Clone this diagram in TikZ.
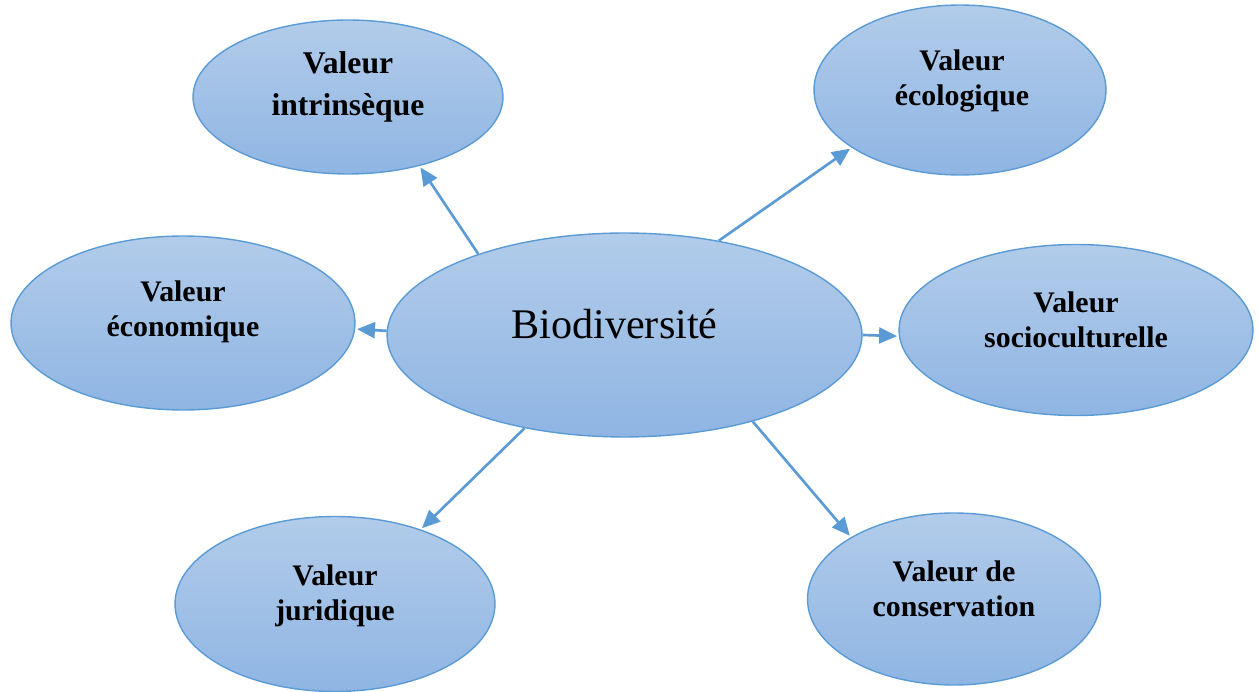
\documentclass[tikz,border=0pt]{standalone}
\usepackage{fontspec}
\setmainfont{Liberation Serif}
\usepackage{tikz}
\usetikzlibrary{arrows.meta,positioning,calc,shapes.geometric}
\definecolor{edgeblue}{HTML}{5B9BD5}
\definecolor{filltop}{HTML}{B2CCEA}
\definecolor{fillbot}{HTML}{8FB5E3}

\begin{document}
\begin{tikzpicture}[
  x=0.02cm, y=-0.02cm,
  arr/.style={-{Triangle[length=3.6mm, width=3.2mm]}, edgeblue, line width=1.5pt, shorten >=1pt},
  bubble/.style={ellipse, draw=edgeblue, line width=0.8pt, inner sep=0pt,
    top color=filltop, bottom color=fillbot},
  lab/.style={font=\fontsize{17}{20}\selectfont\bfseries, align=center},
  biolab/.style={font=\fontsize{24}{28}\selectfont}
]
\useasboundingbox (0,0) rectangle (1259,692);

% ===== BUBBLES =====
\node[bubble, minimum width=9.5cm, minimum height=4.08cm] (bio) at (624.5,335) {};
\node[bubble, minimum width=6.2cm, minimum height=3.08cm] (intr) at (348,97) {};
\node[bubble, minimum width=5.84cm, minimum height=3.4cm] (ecol) at (960,90) {};
\node[bubble, minimum width=6.88cm, minimum height=3.48cm] (econ) at (183,323) {};
\node[bubble, minimum width=7.08cm, minimum height=3.42cm] (socio) at (1076,330) {};
\node[bubble, minimum width=6.4cm, minimum height=3.5cm] (jur) at (335,604) {};
\node[bubble, minimum width=5.86cm, minimum height=3.44cm] (cons) at (954,599) {};

% ===== LABELS =====
\node[biolab] (bio_txt) at ([xshift=-0.2cm, yshift=0.22cm]bio.center) {Biodiversité};
\node[lab, font=\fontsize{18}{24}\selectfont\bfseries] (intr_txt) at ([yshift=0.2cm]intr.center) {Valeur\\intrinsèque};
\node[lab] (ecol_txt) at ([xshift=0.04cm, yshift=0.18cm]ecol.center) {Valeur\\écologique};
\node[lab] (econ_txt) at ([yshift=0.22cm]econ.center) {Valeur\\économique};
\node[lab] (socio_txt) at ([yshift=0.2cm]socio.center) {Valeur\\socioculturelle};
\node[lab] (jur_txt) at ([yshift=0.16cm]jur.center) {Valeur\\juridique};
\node[lab] (cons_txt) at ([yshift=0.2cm]cons.center) {Valeur de\\conservation};

% ===== ARROWS =====
\draw[arr] (bio.151) -- (intr.-44);
\draw[arr] (bio.45) -- (ecol.208);
\draw[arr] (bio.179) -- (econ.-2);
\draw[arr] (bio.0) -- (socio.182);
\draw[arr] (bio.223) -- (jur.41);
\draw[arr] (bio.326) -- (cons.149);

\end{tikzpicture}
\end{document}
